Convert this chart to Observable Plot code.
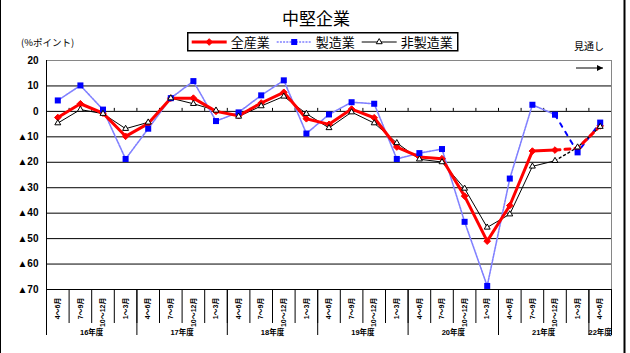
<!DOCTYPE html>
<html><head><meta charset="utf-8">
<script src="https://cdn.jsdelivr.net/npm/d3@7"></script>
<script src="https://cdn.jsdelivr.net/npm/@observablehq/plot@0.6"></script>
<style>
body{margin:0;background:#fff;}
#wrap{position:relative;width:630px;height:353px;overflow:hidden;background:#fff;font-family:"Liberation Sans",Arial,"Noto Sans CJK JP",sans-serif;}
.abs{position:absolute;white-space:nowrap;line-height:1;color:#000;}
#wrap svg{position:absolute;left:0;top:0;}
</style></head><body><div id="wrap"></div>
<script>
// ---- data ----
const title = "中堅企業";
const unitLabel = "(%ポイント)";
const outlookLabel = "見通し";
const quarters = [
  "4～6月","7～9月","10～12月","1～3月",
  "4～6月","7～9月","10～12月","1～3月",
  "4～6月","7～9月","10～12月","1～3月",
  "4～6月","7～9月","10～12月","1～3月",
  "4～6月","7～9月","10～12月","1～3月",
  "4～6月","7～9月","10～12月","1～3月",
  "4～6月"
];
const fiscalYears = [
  "16年度","16年度","16年度","16年度",
  "17年度","17年度","17年度","17年度",
  "18年度","18年度","18年度","18年度",
  "19年度","19年度","19年度","19年度",
  "20年度","20年度","20年度","20年度",
  "21年度","21年度","21年度","21年度",
  "22年度"
];
const seriesNames = ["全産業","製造業","非製造業"];
const allIndustries = [-2.4, 3.0, -0.7, -9.8, -4.8, 5.2, 5.2, 0.0, -1.7, 3.3, 7.5, -2.9, -5.1, 0.9, -2.5, -14.0, -17.9, -18.6, -33.3, -51.0, -37.0, -15.6, -15.2, -14.5, -5.7];
const manufacturing = [4.3, 10.2, 0.7, -18.7, -6.8, 5.2, 11.9, -3.8, -0.4, 6.3, 12.2, -8.7, -1.2, 3.6, 3.0, -18.7, -16.4, -14.8, -43.4, -68.6, -26.4, 2.6, -1.3, -16.1, -4.4];
const nonManufacturing = [-4.6, 0.7, -0.9, -6.8, -4.3, 5.2, 3.0, 0.4, -2.0, 2.1, 5.9, -0.9, -6.5, -0.3, -4.6, -12.4, -18.8, -19.9, -30.3, -45.6, -40.4, -21.6, -19.4, -14.1, -6.0];
const yTicks = [20, 10, 0, -10, -20, -30, -40, -50, -60, -70];
const lastActualIndex = 22; // 見通し (outlook) begins after this quarter

// ---- derived ----
const rows = quarters.map((q, i) => ({
  idx: i, pos: i + 0.5, q, fy: fiscalYears[i],
  all: allIndustries[i], mfg: manufacturing[i], non: nonManufacturing[i]
}));
const actual = rows.filter(r => r.idx <= lastActualIndex);
const outlook = rows.filter(r => r.idx >= lastActualIndex);
const groups = [];
fiscalYears.forEach((fy, i) => {
  const g = groups[groups.length - 1];
  if (g && g.fy === fy) g.end = i + 1; else groups.push({fy, start: i, end: i + 1});
});
const boundaries = d3.range(0, quarters.length + 1);
const yearBoundaries = groups.map(g => g.start).concat([quarters.length]);
const yMax = d3.max(yTicks), yMin = d3.min(yTicks);
const fmt = d => d < 0 ? "▲" + (-d) : String(d);

const styles = {
  "全産業": {stroke: "#ff0000", width: 3, dash: null, symbol: "diamond2", r: 3, fill: "#ff0000", mstroke: "#ff0000"},
  "製造業": {stroke: "#8080ff", width: 1.6, dash: "2,1.2", symbol: "square", r: 3.4, fill: "#0000ff", mstroke: "none"},
  "非製造業": {stroke: "#000000", width: 1, dash: null, symbol: "triangle", r: 2.2, fill: "#ffffff", mstroke: "#000000"}
};

const font = '"Liberation Sans", Arial, "Noto Sans CJK JP", sans-serif';

const plot = Plot.plot({
  width: 630, height: 353,
  marginLeft: 46, marginRight: 19, marginTop: 60, marginBottom: 64,
  x: {type: "linear", domain: [0, quarters.length], axis: null},
  y: {domain: [yMin, yMax], axis: null},
  style: {fontFamily: font, background: "transparent", overflow: "visible", color: "#000"},
  marks: [
    Plot.ruleY(yTicks.filter(v => v !== yMax), {y: d => d, stroke: "#000", strokeWidth: 1}),
    Plot.ruleY([yMax], {y: d => d, stroke: "#868686", strokeWidth: 1}),
    Plot.ruleX([quarters.length], {x: d => d, y1: yMin, y2: yMax, stroke: "#868686"}),
    Plot.ruleX([0], {x: d => d, y1: yMin, y2: yMax, stroke: "#000"}),
    // small ticks on the zero line
    Plot.ruleX(d3.range(1, quarters.length), {x: d => d, y1: 0, y2: 0, insetTop: -3, stroke: "#000"}),
    // category separators under the axis
    Plot.ruleX(boundaries, {x: d => d, y1: yMin, y2: yMin, insetBottom: -34, stroke: "#000"}),
    Plot.ruleX(yearBoundaries, {x: d => d, y1: yMin, y2: yMin, insetBottom: -46, stroke: "#000"}),
    // y labels
    Plot.text(yTicks, {y: d => d, text: fmt, frameAnchor: "left", textAnchor: "end", dx: -8, fontSize: 10, fontWeight: "bold"}),
    // quarter labels
    Plot.text(rows, {x: "pos", y: () => yMin, text: "q", rotate: -90, textAnchor: "end", dy: 8, fontSize: 7, fontWeight: "bold"}),
    // fiscal year labels
    Plot.text(groups, {x: g => (g.start + g.end) / 2, y: () => yMin, text: "fy", dy: 43, fontSize: 7.5, fontWeight: "bold"}),
    // 製造業
    Plot.line(actual, {x: "pos", y: "mfg", stroke: "#8080ff", strokeWidth: 1.6, strokeDasharray: "2,1.2"}),
    Plot.line(outlook, {x: "pos", y: "mfg", stroke: "#0000ff", strokeWidth: 2, strokeDasharray: "4,6"}),
    // 非製造業
    Plot.line(actual, {x: "pos", y: "non", stroke: "#000", strokeWidth: 1}),
    Plot.line(outlook, {x: "pos", y: "non", stroke: "#000", strokeWidth: 1.4, strokeDasharray: "2,3"}),
    // 全産業
    Plot.line(actual, {x: "pos", y: "all", stroke: "#ff0000", strokeWidth: 3}),
    Plot.line(outlook, {x: "pos", y: "all", stroke: "#ff0000", strokeWidth: 3, strokeDasharray: "5,5"}),
    Plot.dot(rows, {x: "pos", y: "all", symbol: "diamond2", r: 3, fill: "#ff0000", stroke: "#ff0000", strokeWidth: 1}),
    Plot.dot(rows, {x: "pos", y: "mfg", symbol: "square", r: 3.4, fill: "#0000ff", stroke: "none"}),
    Plot.dot(rows, {x: "pos", y: "non", symbol: "triangle", r: 2.2, fill: "#fff", stroke: "#000", strokeWidth: 1})
  ]
});

const wrap = document.getElementById("wrap");
wrap.appendChild(plot);

function addText(txt, left, top, size, extra) {
  const d = document.createElement("div");
  d.className = "abs";
  d.textContent = txt;
  d.style.left = left + "px"; d.style.top = top + "px"; d.style.fontSize = size + "px";
  d.style.fontFamily = '"Noto Sans CJK JP", sans-serif';
  if (extra) Object.assign(d.style, extra);
  wrap.appendChild(d);
  return d;
}
// title
addText(title, 0, 9, 17, {width: "632px", textAlign: "center"});
addText(unitLabel, 21, 38, 9.5);
addText(outlookLabel, 574, 41, 10);

// overlay svg: legend, arrow, frame lines
const ov = d3.select(wrap).append("svg").attr("width", 630).attr("height", 353)
  .style("pointer-events", "none");
ov.append("line").attr("x1", 0.5).attr("x2", 0.5).attr("y1", 0).attr("y2", 353).attr("stroke", "#000");
ov.append("line").attr("x1", 624.5).attr("x2", 624.5).attr("y1", 0).attr("y2", 353).attr("stroke", "#000").attr("stroke-width", 2);
// outlook arrow
ov.append("defs").append("marker").attr("id", "ah").attr("viewBox", "0 0 10 10").attr("refX", 10).attr("refY", 5)
  .attr("markerWidth", 6).attr("markerHeight", 6).attr("markerUnits", "userSpaceOnUse").attr("orient", "auto")
  .append("path").attr("d", "M0,0L10,5L0,10Z").attr("fill", "#000");
ov.append("line").attr("x1", 576).attr("x2", 603).attr("y1", 68).attr("y2", 68)
  .attr("stroke", "#000").attr("stroke-width", 1).attr("marker-end", "url(#ah)");
// legend
const lg = ov.append("g").attr("transform", "translate(187,32)");
lg.append("rect").attr("x", 0.75).attr("y", 0.75).attr("width", 270).attr("height", 18)
  .attr("fill", "#fff").attr("stroke", "#000").attr("stroke-width", 1.5);
const itemX = [4.7, 89.7, 174.7];
seriesNames.forEach((name, k) => {
  const s = styles[name];
  const x0 = itemX[k], cy = 10;
  lg.append("line").attr("x1", x0).attr("x2", x0 + 35).attr("y1", cy).attr("y2", cy)
    .attr("stroke", s.stroke).attr("stroke-width", s.width).attr("stroke-dasharray", s.dash);
  const sym = {diamond2: d3.symbolDiamond2, square: d3.symbolSquare, triangle: d3.symbolTriangle}[s.symbol];
  lg.append("path").attr("transform", `translate(${x0 + 17.5},${cy})`)
    .attr("d", d3.symbol(sym, Math.PI * s.r * s.r)())
    .attr("fill", s.fill).attr("stroke", s.mstroke);
  lg.append("text").attr("x", x0 + 39).attr("y", cy).attr("dy", "0.35em")
    .attr("font-size", 13).attr("font-family", '"Noto Sans CJK JP", sans-serif').text(name);
});
</script>
</body></html>
